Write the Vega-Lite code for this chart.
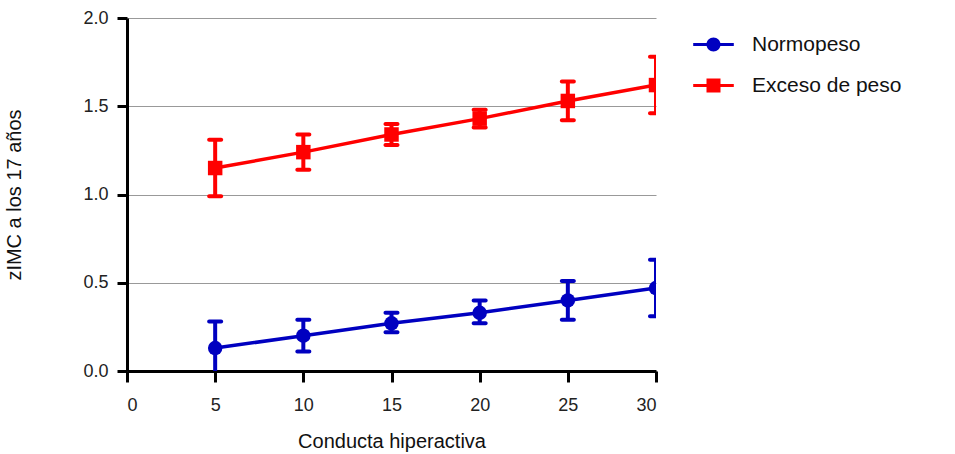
{
  "$schema": "https://vega.github.io/schema/vega-lite/v6.json",
  "width": 529,
  "height": 353,
  "autosize": "none",
  "padding": {"left": 127, "top": 18, "right": 299, "bottom": 83},
  "background": "white",
  "config": {
    "view": {"stroke": null},
    "font": "Liberation Sans",
    "axis": {
      "domainColor": "black",
      "domainWidth": 3,
      "tickColor": "black",
      "tickWidth": 3,
      "labelFont": "Liberation Sans",
      "labelFontSize": 18,
      "labelColor": "#222",
      "titleFont": "Liberation Sans",
      "titleFontSize": 20,
      "titleFontWeight": "normal",
      "titleColor": "#111"
    }
  },
  "data": {
    "values": [
      {"serie": "Normopeso", "x": 5, "y": 0.13, "lo": -0.02, "hi": 0.28},
      {"serie": "Normopeso", "x": 10, "y": 0.20, "lo": 0.11, "hi": 0.29},
      {"serie": "Normopeso", "x": 15, "y": 0.27, "lo": 0.22, "hi": 0.33},
      {"serie": "Normopeso", "x": 20, "y": 0.33, "lo": 0.27, "hi": 0.40},
      {"serie": "Normopeso", "x": 25, "y": 0.40, "lo": 0.29, "hi": 0.51},
      {"serie": "Normopeso", "x": 30, "y": 0.47, "lo": 0.31, "hi": 0.63},
      {"serie": "Exceso de peso", "x": 5, "y": 1.15, "lo": 0.99, "hi": 1.31},
      {"serie": "Exceso de peso", "x": 10, "y": 1.24, "lo": 1.14, "hi": 1.34},
      {"serie": "Exceso de peso", "x": 15, "y": 1.34, "lo": 1.28, "hi": 1.40},
      {"serie": "Exceso de peso", "x": 20, "y": 1.43, "lo": 1.38, "hi": 1.48},
      {"serie": "Exceso de peso", "x": 25, "y": 1.53, "lo": 1.42, "hi": 1.64},
      {"serie": "Exceso de peso", "x": 30, "y": 1.62, "lo": 1.46, "hi": 1.78}
    ]
  },
  "encoding": {
    "x": {
      "field": "x",
      "type": "quantitative",
      "scale": {"domain": [0, 30], "nice": false, "zero": false},
      "axis": {
        "title": "Conducta hiperactiva",
        "values": [0, 5, 10, 15, 20, 25, 30],
        "grid": false,
        "tickSize": 11,
        "labelPadding": 14,
        "titlePadding": 17
      }
    },
    "color": {
      "field": "serie",
      "type": "nominal",
      "scale": {"domain": ["Normopeso", "Exceso de peso"], "range": ["#0000c0", "#ff0000"]},
      "legend": {
        "title": null,
        "orient": "none",
        "legendX": 576,
        "legendY": 16,
        "symbolSize": 196,
        "symbolStrokeWidth": 0,
        "labelFontSize": 21,
        "labelColor": "#111",
        "labelOffset": 28,
        "rowPadding": 19,
        "padding": 0
      }
    }
  },
  "layer": [
    {
      "mark": {"type": "rule", "strokeWidth": 4, "clip": true},
      "encoding": {
        "y": {
          "field": "lo",
          "type": "quantitative",
          "scale": {"domain": [0, 2], "nice": false},
          "axis": {
            "title": "zIMC a los 17 años",
            "values": [0, 0.5, 1, 1.5, 2],
            "format": ".1f",
            "grid": true,
            "gridColor": "#999",
            "gridWidth": 1,
            "tickSize": 10,
            "labelPadding": 9,
            "titlePadding": 58
          }
        },
        "y2": {"field": "hi"}
      }
    },
    {
      "mark": {"type": "tick", "orient": "horizontal", "size": 16, "thickness": 4, "cornerRadius": 2, "clip": true, "opacity": 1},
      "encoding": {"y": {"field": "lo", "type": "quantitative"}}
    },
    {
      "mark": {"type": "tick", "orient": "horizontal", "size": 16, "thickness": 4, "cornerRadius": 2, "clip": true, "opacity": 1},
      "encoding": {"y": {"field": "hi", "type": "quantitative"}}
    },
    {
      "mark": {"type": "line", "strokeWidth": 3.5, "clip": true},
      "encoding": {"y": {"field": "y", "type": "quantitative"}}
    },
    {
      "transform": [{"filter": "datum.serie === 'Normopeso'"}],
      "mark": {"type": "point", "shape": "circle", "filled": true, "opacity": 1, "size": 210, "clip": true},
      "encoding": {"y": {"field": "y", "type": "quantitative"}}
    },
    {
      "transform": [{"filter": "datum.serie === 'Exceso de peso'"}],
      "mark": {"type": "point", "shape": "square", "filled": true, "opacity": 1, "size": 210, "clip": true},
      "encoding": {"y": {"field": "y", "type": "quantitative"}}
    },
    {
      "transform": [{"filter": "datum.x > 1000"}],
      "mark": {"type": "point", "filled": true, "opacity": 1, "size": 196, "clip": true},
      "encoding": {
        "y": {"field": "y", "type": "quantitative"},
        "shape": {
          "field": "serie",
          "type": "nominal",
          "scale": {
            "domain": ["Normopeso", "Exceso de peso"],
            "range": ["M-2.9,-0.22H2.9V0.22H-2.9ZM1,0A1,1,0,1,1,-1,0A1,1,0,1,1,1,0Z", "M-2.9,-0.22H2.9V0.22H-2.9ZM-1,-1H1V1H-1Z"]
          }
        }
      }
    }
  ]
}
